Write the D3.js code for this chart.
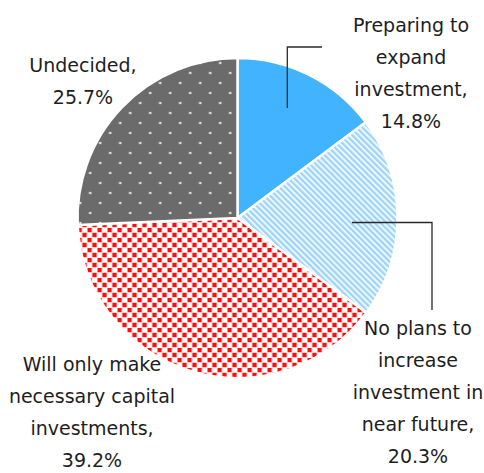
<!DOCTYPE html>
<html>
<head>
<meta charset="utf-8">
<script src="https://cdn.jsdelivr.net/npm/d3@7"></script>
<style>
  html, body { margin: 0; padding: 0; background: #fff; }
  svg { display: block; }
  text { font-family: "DejaVu Sans", Verdana, sans-serif; fill: #1e1e1e; }
</style>
</head>
<body>
<svg id="chart" width="484" height="473"></svg>
<script>
// Investment plans survey: share of respondents per answer
const categories = [
  "Preparing to expand investment",
  "No plans to increase investment in near future",
  "Will only make necessary capital investments",
  "Undecided"
];
const values = [14.8, 20.3, 39.2, 25.7];
// How each category name wraps onto lines in its label
const labelLines = [
  ["Preparing to", "expand", "investment,"],
  ["No plans to", "increase", "investment in", "near future,"],
  ["Will only make", "necessary capital", "investments,"],
  ["Undecided,"]
];
const fills = ["url(#solidBlue)", "url(#stripeBlue)", "url(#redChecks)", "url(#greyDots)"];

const svg = d3.select("#chart");
const defs = svg.append("defs");

// solid blue
const pBlue = defs.append("pattern").attr("id", "solidBlue")
  .attr("patternUnits", "userSpaceOnUse").attr("width", 10).attr("height", 10);
pBlue.append("rect").attr("width", 10).attr("height", 10).attr("fill", "#41b3ff");

// light blue diagonal stripes
const pStripe = defs.append("pattern").attr("id", "stripeBlue")
  .attr("patternUnits", "userSpaceOnUse").attr("width", 4.2).attr("height", 10)
  .attr("patternTransform", "rotate(-45)");
pStripe.append("rect").attr("width", 4.2).attr("height", 10).attr("fill", "#eef8fe");
pStripe.append("rect").attr("width", 2.2).attr("height", 10).attr("fill", "#9ed4f8");

// red squares on white
const pRed = defs.append("pattern").attr("id", "redChecks")
  .attr("patternUnits", "userSpaceOnUse").attr("width", 10).attr("height", 10);
pRed.append("rect").attr("width", 10).attr("height", 10).attr("fill", "#ffffff");
[[0, 0], [5, 5]].forEach(([x, y]) => {
  pRed.append("rect").attr("x", x - 0.6).attr("y", y - 0.6).attr("width", 5.2).attr("height", 5.2).attr("fill", "#ffa8a8");
  pRed.append("rect").attr("x", x).attr("y", y).attr("width", 4).attr("height", 4).attr("fill", "#ff0c0c");
});

// dark grey with a lattice of light dots
const pGrey = defs.append("pattern").attr("id", "greyDots")
  .attr("patternUnits", "userSpaceOnUse").attr("width", 20).attr("height", 20);
pGrey.append("rect").attr("width", 20).attr("height", 20).attr("fill", "#6b6b6b");
[[2.7, 5], [12.7, 15]].forEach(([x, y]) => {
  pGrey.append("circle").attr("cx", x).attr("cy", y).attr("r", 1.3).attr("fill", "#e8e8e8");
});

const cx = 237.5, cy = 218, radius = 160;

const pie = d3.pie().sort(null).value(d => d)
  .startAngle(0).endAngle(2 * Math.PI);
const arc = d3.arc().innerRadius(0).outerRadius(radius);

const g = svg.append("g").attr("transform", `translate(${cx},${cy})`);
g.selectAll("path.slice")
  .data(pie(values))
  .join("path")
  .attr("class", "slice")
  .attr("d", arc)
  .attr("fill", (d, i) => fills[i])
  .attr("stroke", "#ffffff")
  .attr("stroke-width", 2.5)
  .attr("stroke-linejoin", "round");

// leader lines for the two labels on the right
const leaders = [
  [[287.3, 108], [287.3, 47], [322, 47]],
  [[352, 222.5], [432, 222.5], [432, 310]]
];
svg.selectAll("path.leader")
  .data(leaders)
  .join("path")
  .attr("class", "leader")
  .attr("d", d3.line())
  .attr("fill", "none")
  .attr("stroke", "#2a2a2a")
  .attr("stroke-width", 1.3);

// label anchor (centre x, first baseline) per slice
const labelPos = [[411, 32], [418, 335], [92, 371], [83, 72]];
const lineGap = 32;

labelLines.forEach((lines, i) => {
  const all = lines.concat([d3.format(".1f")(values[i]) + "%"]);
  const t = svg.append("text")
    .attr("text-anchor", "middle")
    .attr("font-size", 19);
  all.forEach((s, k) => {
    t.append("tspan")
      .attr("x", labelPos[i][0])
      .attr("y", labelPos[i][1] + k * lineGap)
      .text(s);
  });
});
</script>
</body>
</html>
